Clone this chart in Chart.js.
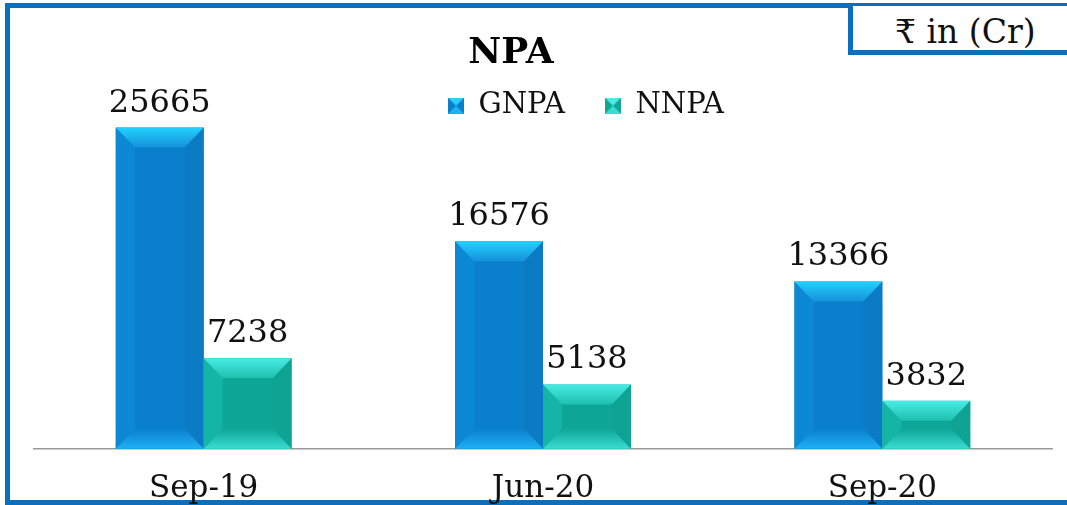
<!DOCTYPE html>
<html>
<head>
<meta charset="utf-8">
<script src="https://cdn.jsdelivr.net/npm/chart.js@4.4.0/dist/chart.umd.min.js"></script>
<style>
  html, body { margin: 0; padding: 0; background: #fff; }
  #wrap { position: relative; width: 1067px; height: 505px; overflow: hidden; }
  #frame {
    position: absolute; left: 5px; top: 3px; width: 1100px; height: 492px;
    border-top: 5px solid #0a6fc0; border-left: 5px solid #0a6fc0; border-bottom: 5px solid #0a6fc0;
  }
  #unitBox {
    position: absolute; left: 848px; top: 6px; width: 260px; height: 44px;
    border-left: 5px solid #0a6fc0; border-bottom: 5px solid #0a6fc0;
    background: #fff;
  }
  #unitBox span {
    position: absolute; left: 42px; top: 6px;
    font-family: "DejaVu Serif", serif; font-size: 33px; color: #111; white-space: nowrap;
  }
  canvas { position: absolute; left: 0; top: 0; }
</style>
</head>
<body>
<div id="wrap">
  <div id="frame"></div>
  <canvas id="npaChart" width="1067" height="534"></canvas>
  <div id="unitBox"><span>₹ in (Cr)</span></div>
</div>
<script>
// Data
const periods = ['Sep-19', 'Jun-20', 'Sep-20'];
const gnpa = [25665, 16576, 13366];
const nnpa = [7238, 5138, 3832];
const seriesNames = ['GNPA', 'NNPA'];

// bevel colours per series: face, top, top inner, left, right, bottom
const bevelColors = [
    { face: '#0a80cc', top: '#22d2ff', topIn: '#1590d8', left: '#0d88d4', right: '#0a7bc4', bottom: '#1fb0f2' },
    { face: '#0ea696', top: '#48ece4', topIn: '#1ebfae', left: '#14b4a6', right: '#0ea392', bottom: '#3adcd2' }
];

const serif = '"DejaVu Serif", "Liberation Serif", serif';

// Draws the bevelled (3D-ish) look over each bar
const bevelPlugin = {
    id: 'bevel',
    afterDatasetsDraw(chart) {
        const ctx = chart.ctx;
        chart.data.datasets.forEach((ds, i) => {
            const meta = chart.getDatasetMeta(i);
            const c = bevelColors[i];
            meta.data.forEach(bar => {
                const w = bar.width;
                const l = bar.x - w / 2, r = bar.x + w / 2;
                const t = bar.y, b = bar.base;
                const h = b - t;
                const bv = Math.min(20, h / 2.4);
                const bh = Math.min(19, w / 2.2);
                ctx.save();
                ctx.fillStyle = c.face;
                ctx.fillRect(l, t, w, h);
                // left
                ctx.fillStyle = c.left;
                ctx.beginPath();
                ctx.moveTo(l, t); ctx.lineTo(l + bh, t + bv); ctx.lineTo(l + bh, b - bv); ctx.lineTo(l, b);
                ctx.closePath(); ctx.fill();
                // right
                ctx.fillStyle = c.right;
                ctx.beginPath();
                ctx.moveTo(r, t); ctx.lineTo(r - bh, t + bv); ctx.lineTo(r - bh, b - bv); ctx.lineTo(r, b);
                ctx.closePath(); ctx.fill();
                // top
                let g = ctx.createLinearGradient(0, t, 0, t + bv);
                g.addColorStop(0, c.top);
                g.addColorStop(1, c.topIn);
                ctx.fillStyle = g;
                ctx.beginPath();
                ctx.moveTo(l, t); ctx.lineTo(r, t); ctx.lineTo(r - bh, t + bv); ctx.lineTo(l + bh, t + bv);
                ctx.closePath(); ctx.fill();
                // bottom
                g = ctx.createLinearGradient(0, b - bv, 0, b);
                g.addColorStop(0, c.face);
                g.addColorStop(1, c.bottom);
                ctx.fillStyle = g;
                ctx.beginPath();
                ctx.moveTo(l, b); ctx.lineTo(r, b); ctx.lineTo(r - bh, b - bv); ctx.lineTo(l + bh, b - bv);
                ctx.closePath(); ctx.fill();
                ctx.restore();
            });
        });
    }
};

// Value labels above bars
const valueLabels = {
    id: 'valueLabels',
    afterDatasetsDraw(chart) {
        const ctx = chart.ctx;
        ctx.save();
        ctx.font = '32px ' + serif;
        ctx.fillStyle = '#111';
        ctx.textAlign = 'center';
        ctx.textBaseline = 'alphabetic';
        chart.data.datasets.forEach((ds, i) => {
            chart.getDatasetMeta(i).data.forEach((bar, j) => {
                ctx.fillText(String(ds.data[j]), bar.x, bar.y - 16);
            });
        });
        ctx.restore();
    }
};

// title sits a bit left of centre, legend a bit right, like the original slide
const nudgeBlocks = {
    id: 'nudgeBlocks',
    afterLayout(chart) {
        if (chart.titleBlock) { chart.titleBlock.left -= 32; chart.titleBlock.right -= 32; }
        if (chart.legend) { chart.legend.left += 43; chart.legend.right += 43; }
    }
};

// legend box with the same bevel style
function legendBox(c) {
    const s = 16;
    const cv = document.createElement('canvas');
    cv.width = s; cv.height = s;
    const x = cv.getContext('2d');
    x.fillStyle = c.face; x.fillRect(0, 0, s, s);
    x.fillStyle = c.top;
    x.beginPath(); x.moveTo(0, 0); x.lineTo(s, 0); x.lineTo(s / 2, s / 2); x.closePath(); x.fill();
    x.fillStyle = c.bottom;
    x.beginPath(); x.moveTo(0, s); x.lineTo(s, s); x.lineTo(s / 2, s / 2); x.closePath(); x.fill();
    return cv;
}

new Chart(document.getElementById('npaChart'), {
    type: 'bar',
    data: {
        labels: periods,
        datasets: [
            { label: seriesNames[0], data: gnpa, backgroundColor: 'rgba(0,0,0,0)', pointStyle: legendBox(bevelColors[0]) },
            { label: seriesNames[1], data: nnpa, backgroundColor: 'rgba(0,0,0,0)', pointStyle: legendBox(bevelColors[1]) }
        ]
    },
    options: {
        responsive: false,
        animation: false,
        layout: { padding: { left: 34, right: 15, top: 0, bottom: 4 } },
        datasets: {
            bar: { categoryPercentage: 0.518, barPercentage: 1.0, borderWidth: 0 }
        },
        plugins: {
            title: {
                display: true,
                text: 'NPA',
                color: '#000',
                font: { family: serif, size: 36, weight: 'bold' },
                padding: { top: 32, bottom: -24 }
            },
            legend: {
                display: true,
                labels: {
                    usePointStyle: true,
                    color: '#111',
                    font: { family: serif, size: 29 },
                    padding: 40,
                    boxWidth: 16,
                    boxHeight: 16
                }
            },
            tooltip: { enabled: false }
        },
        scales: {
            x: {
                grid: { display: false, drawTicks: false },
                border: { display: true, color: '#999', width: 1.5 },
                ticks: { color: '#111', font: { family: serif, size: 31 }, padding: 22 }
            },
            y: {
                display: false,
                min: 0,
                max: 25450
            }
        }
    },
    plugins: [bevelPlugin, valueLabels, nudgeBlocks]
});
</script>
</body>
</html>
